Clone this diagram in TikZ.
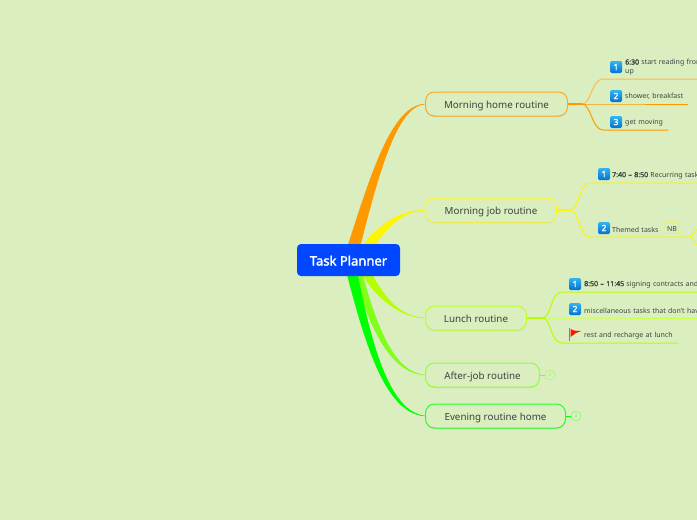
\documentclass[tikz,border=0pt]{standalone}
\usepackage{fontspec}
\setmainfont{Noto Sans}[AutoFakeBold=2]
\usetikzlibrary{backgrounds,shadows}
\definecolor{paper}{HTML}{DBEEC0}
\definecolor{rootblue}{HTML}{0047FF}
\definecolor{inktext}{HTML}{3A4440}
\definecolor{cmorning}{HTML}{FF9900}
\definecolor{cjob}{HTML}{FFF500}
\definecolor{clunch}{HTML}{B4FF00}
\definecolor{cafter}{HTML}{7FFF1A}
\definecolor{cevening}{HTML}{00FF00}
\definecolor{icontop}{HTML}{35B4F2}
\definecolor{iconlow}{HTML}{0074D0}
\tikzset{
	topic/.style={draw=#1, fill=paper, line width=1pt, rounded corners=9pt, minimum height=24pt, inner sep=0pt, text height=10.5pt, text depth=1.5pt, anchor=west, text=inktext, font=\fontsize{9.8}{12}\selectfont, drop shadow={opacity=.18, shadow xshift=0pt, shadow yshift=-1pt}},
	leaf/.style={anchor=south west, inner xsep=0pt, inner ysep=4pt, text width=#1, align=left, text=inktext, font=\fontsize{7}{8.6}\selectfont},
	iconbox/.style={rounded corners=1.5pt, top color=icontop, bottom color=iconlow, minimum size=12pt, inner sep=0pt, text=white, font=\bfseries\fontsize{8.5}{8.5}\selectfont},
	twig/.style={draw=#1, line width=1pt},
	stub/.style={draw=#1, line width=1.4pt},
	bough/.style={fill=#1, draw=#1, line width=.5pt},
	badge/.style={circle, draw=#1, minimum size=10pt, inner sep=0pt, text=#1, font=\fontsize{5}{5}\selectfont},
}
\begin{document}
\begin{tikzpicture}[x=1pt, y=-1pt]
	\useasboundingbox (0,0) rectangle (697,520);
	\clip (0,0) rectangle (697,520);
	\node[fill=rootblue, rounded corners=4pt, minimum width=103pt, minimum height=32pt, inner sep=0pt, text height=12pt, text depth=1pt, text=white, font=\bfseries\fontsize{13}{14}\selectfont] (root) at (348.5,260) {Task Planner};
	\node[topic=cmorning!85!white, minimum width=142pt] (home) at (425,104) {Morning home routine};
	\node[topic=cjob!85!white, minimum width=131pt] (job) at (425,210) {Morning job routine};
	\node[topic=clunch!85!white, minimum width=101pt] (lunch) at (425,318) {Lunch routine};
	\node[topic=cafter!85!white, minimum width=114pt] (after) at (425,375) {After-job routine};
	\node[topic=cevening!85!white, minimum width=140pt] (evening) at (425,416) {Evening routine home};
	\coordinate (homefork) at (582,104);
	\coordinate (jobfork) at (570,210);
	\coordinate (lunchfork) at (542,318);
	\node[leaf=125pt] (home1) at (603,79) {\hspace*{22pt}\textbf{6:30} start reading from\\\hspace*{22pt}up};
	\node[leaf=85pt] (home2) at (603,104) {\hspace*{22pt}shower, breakfast};
	\node[leaf=65pt] (home3) at (603,130) {\hspace*{22pt}get moving};
	\node[leaf=115pt] (job1) at (590,183) {\hspace*{22pt}\textbf{7:40 – 8:50} Recurring tasks};
	\node[leaf=100pt] (job2) at (590,237) {\hspace*{22pt}Themed tasks};
	\node[leaf=140pt] (lunch1) at (562,292) {\hspace*{22pt}\textbf{8:50 – 11:45} signing contracts and};
	\node[leaf=140pt] (lunch2) at (562,318) {\hspace*{22pt}miscellaneous tasks that don't hav};
	\node[leaf=116pt] (lunch3) at (562,343) {\hspace*{22pt}rest and recharge at lunch};
	\node[iconbox] (homeicon1) at (616,67) {1};
	\node[iconbox] (homeicon2) at (616,96) {2};
	\node[iconbox] (homeicon3) at (616,122) {3};
	\node[iconbox] (jobicon1) at (604,174) {1};
	\node[iconbox] (jobicon2) at (604,228) {2};
	\node[iconbox] (lunchicon1) at (575,284) {1};
	\node[iconbox] (lunchicon2) at (575,309) {2};
	\node[draw=cjob, rounded corners=1.5pt, minimum width=14pt, minimum height=11pt, inner sep=0pt, text height=6pt, text depth=0pt, text=inktext, font=\fontsize{7}{7}\selectfont] (jobnote) at (672,228) {NB};
	\node[badge=cafter!80!white] (afterbadge) at (550,375) {2};
	\node[badge=cevening!60!white] (eveningbadge) at (576,416) {3};
	\fill[red!85!orange] (570.5,329) .. controls (574,331) and (577,331) .. (581,331) -- (576,333) -- (570.5,337) -- cycle;
	\draw[gray, line width=.7pt] (569.7,328) -- (569.7,340.5);
	\draw[stub=cmorning] (home.east) -- (homefork);
	\draw[twig=cmorning!70!white] (homefork) .. controls (591,104) and (592,79) .. (home1.south west) -- (home1.south east);
	\draw[twig=cmorning] (homefork) -- (home2.south west) -- (home2.south east);
	\draw[twig=cmorning] (homefork) .. controls (591,104) and (592,130) .. (home3.south west) -- (home3.south east);
	\draw[stub=cjob] (job.east) -- (jobfork);
	\draw[twig=cjob] (jobfork) .. controls (580,210) and (578,183) .. (job1.south west) -- (job1.south east);
	\draw[twig=cjob] (jobfork) .. controls (580,210) and (578,237) .. (job2.south west) -- (job2.south east);
	\coordinate (jobout1) at (703,226);
	\coordinate (jobout2) at (703,247);
	\draw[twig=cjob] (job2.south east) .. controls (693,237) and (693,229) .. (jobout1);
	\draw[twig=cjob] (job2.south east) .. controls (693,237) and (693,245) .. (jobout2);
	\draw[stub=clunch] (lunch.east) -- (lunchfork);
	\draw[twig=clunch] (lunchfork) .. controls (552,318) and (550,292) .. (lunch1.south west) -- (lunch1.south east);
	\draw[twig=clunch!70!white] (lunchfork) -- (lunch2.south west) -- (lunch2.south east);
	\draw[twig=clunch] (lunchfork) .. controls (552,318) and (550,343) .. (lunch3.south west) -- (lunch3.south east);
	\draw[twig=cafter] (after.east) -- (afterbadge.west);
	\draw[twig=cevening] (evening.east) -- (eveningbadge.west);
	\begin{scope}[on background layer]
		\fill[paper] (0,0) rectangle (697,520);
		\path[bough=cmorning] ([xshift=-5pt]root.center) .. controls (372,170) and (392,106) .. (home.west) .. controls (396,106) and (378,175) .. ([xshift=8pt]root.center) -- cycle;
		\path[bough=cjob] ([xshift=4pt]root.center) .. controls (375,225) and (398,211) .. (job.west) .. controls (400,212) and (385,228) .. ([xshift=16pt]root.center) -- cycle;
		\path[bough=clunch] ([xshift=6pt]root.center) .. controls (372,298) and (402,318) .. (lunch.west) .. controls (398,317) and (382,296) .. ([xshift=16pt]root.center) -- cycle;
		\path[bough=cafter] ([xshift=2pt]root.center) .. controls (366,320) and (388,373) .. (after.west) .. controls (392,373) and (374,320) .. ([xshift=10pt]root.center) -- cycle;
		\path[bough=cevening] ([xshift=-5pt]root.center) .. controls (364,340) and (384,413) .. (evening.west) .. controls (388,412) and (370,340) .. ([xshift=6pt]root.center) -- cycle;
	\end{scope}
\end{tikzpicture}
\end{document}
